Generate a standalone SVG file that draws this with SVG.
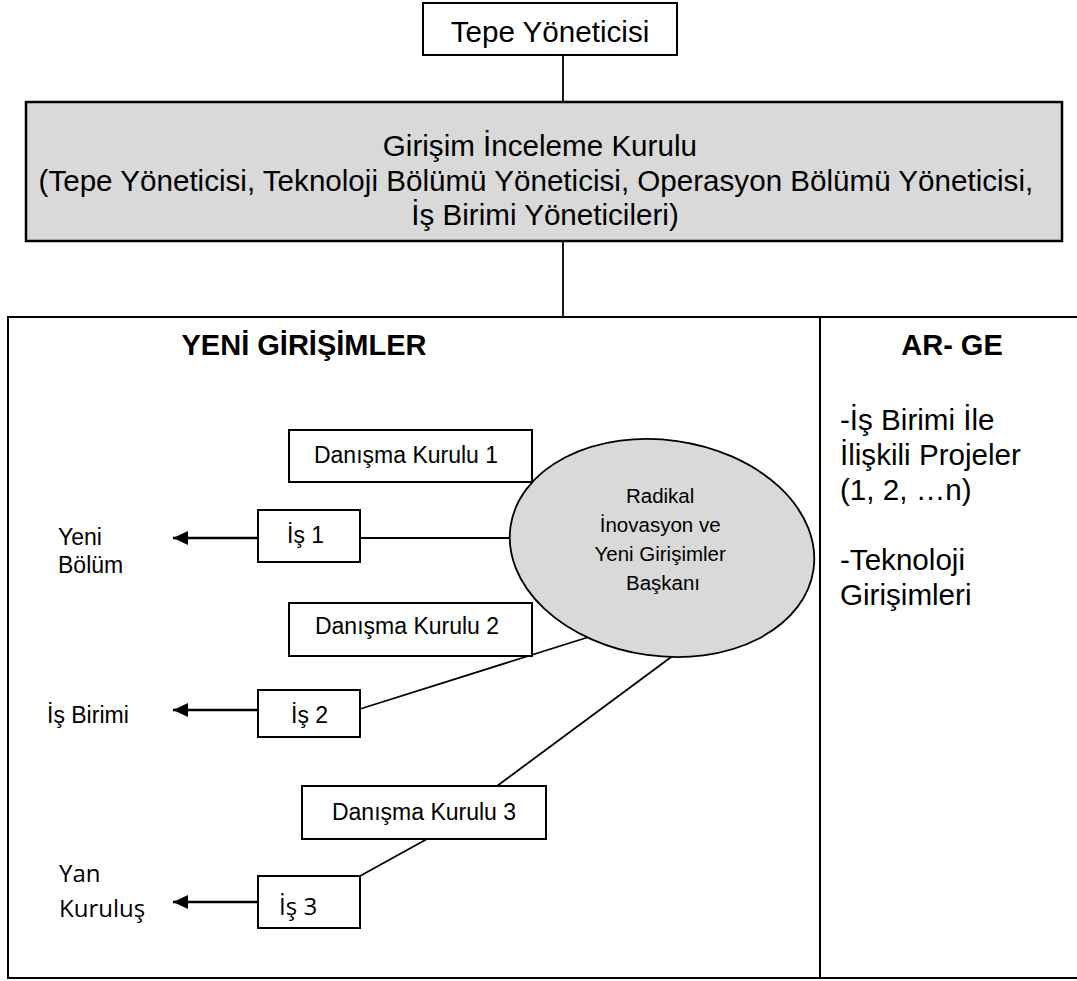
<svg xmlns="http://www.w3.org/2000/svg" width="1077" height="981" viewBox="0 0 1077 981">
  <style>
    .box { fill: #ffffff; stroke: #000000; stroke-width: 2; }
    .gray { fill: #d9d9d9; stroke: #000000; stroke-width: 2.5; }
    .line { fill: none; stroke: #000000; stroke-width: 1.8; }
    .arrow { fill: none; stroke: #000000; stroke-width: 2.6; marker-end: url(#head); }
    text { font-family: "Liberation Sans", Arial, sans-serif; fill: #000000; }
    .big { font-size: 29.6px; }
    .title { font-size: 29px; font-weight: bold; }
    .mid { font-size: 23px; }
    .soft { font-family: "Open Sans", "Liberation Sans", sans-serif; font-size: 24px; }
    .small { font-size: 20.5px; }
  </style>
  <defs>
    <marker id="head" markerWidth="16" markerHeight="14" refX="15" refY="7" orient="auto" markerUnits="userSpaceOnUse">
      <path d="M0,0 L15,7 L0,14 Z" fill="#000000"/>
    </marker>
  </defs>

  <!-- outer frame with the two columns -->
  <g id="frame">
    <path d="M1077,317 L8,317 L8,978 L1077,978" fill="none" stroke="#000000" stroke-width="2"/>
    <line x1="820" y1="317" x2="820" y2="978" stroke="#000000" stroke-width="2"/>
  </g>

  <!-- connectors (drawn beneath the ellipse so their ends tuck under it) -->
  <g id="connectors">
    <line class="line" x1="563" y1="55" x2="563" y2="102"/>
    <line class="line" x1="563" y1="241" x2="563" y2="317"/>
    <line class="line" x1="360" y1="538" x2="520" y2="538"/>
    <line class="line" x1="360" y1="709" x2="592" y2="636"/>
    <line class="line" x1="682" y1="649" x2="497" y2="786"/>
    <line class="line" x1="427" y1="839" x2="360" y2="876"/>
    <line class="arrow" x1="257" y1="538" x2="173" y2="538"/>
    <line class="arrow" x1="257" y1="710" x2="173" y2="710"/>
    <line class="arrow" x1="257" y1="902" x2="173" y2="902"/>
  </g>

  <g id="tepe-yoneticisi">
    <rect class="box" x="423" y="3" width="254" height="52"/>
    <text class="big" x="550" y="42" text-anchor="middle">Tepe Yöneticisi</text>
  </g>

  <g id="girisim-inceleme-kurulu">
    <rect class="gray" x="26" y="102" width="1036" height="139"/>
    <text class="big" text-anchor="middle">
      <tspan x="544" y="156">Girişim İnceleme Kurulu</tspan>
      <tspan x="540" y="191">(Tepe Yöneticisi, Teknoloji Bölümü Yöneticisi, Operasyon Bölümü Yöneticisi,</tspan>
      <tspan x="545" y="225">İş Birimi Yöneticileri)</tspan>
    </text>
  </g>

  <g id="yeni-girisimler-title">
    <text class="title" x="304" y="355" text-anchor="middle">YENİ GİRİŞİMLER</text>
  </g>

  <g id="ar-ge">
    <text class="title" x="952" y="355" text-anchor="middle">AR- GE</text>
    <text class="big">
      <tspan x="840" y="430">-İş Birimi İle</tspan>
      <tspan x="840" y="465">İlişkili Projeler</tspan>
      <tspan x="840" y="500">(1, 2, …n)</tspan>
      <tspan x="840" y="570">-Teknoloji</tspan>
      <tspan x="840" y="605">Girişimleri</tspan>
    </text>
  </g>

  <g id="baskan">
    <ellipse cx="662" cy="548" rx="153" ry="108" transform="rotate(8 662 548)" fill="#d9d9d9" stroke="#000000" stroke-width="1.8"/>
    <text class="small" text-anchor="middle">
      <tspan x="663" y="503">Radikal</tspan>
      <tspan x="663" y="532">İnovasyon ve</tspan>
      <tspan x="663" y="561">Yeni Girişimler</tspan>
      <tspan x="663" y="590">Başkanı</tspan>
    </text>
  </g>

  <g id="danisma-kurulu-1">
    <rect class="box" x="289" y="430" width="243" height="52"/>
    <text class="mid" x="406" y="463" text-anchor="middle">Danışma Kurulu 1</text>
  </g>

  <g id="danisma-kurulu-2">
    <rect class="box" x="289" y="603" width="243" height="53"/>
    <text class="mid" x="407" y="634" text-anchor="middle">Danışma Kurulu 2</text>
  </g>

  <g id="danisma-kurulu-3">
    <rect class="box" x="302" y="786" width="244" height="53"/>
    <text class="mid" x="424" y="820" text-anchor="middle">Danışma Kurulu 3</text>
  </g>

  <g id="is-1">
    <rect class="box" x="258" y="510" width="102" height="52"/>
    <text class="mid" x="287" y="543">İş 1</text>
  </g>

  <g id="is-2">
    <rect class="box" x="258" y="690" width="102" height="47"/>
    <text class="mid" x="291" y="723">İş 2</text>
  </g>

  <g id="is-3">
    <rect class="box" x="258" y="876" width="102" height="52"/>
    <text class="soft" x="279" y="915">İş 3</text>
  </g>

  <g id="yeni-bolum">
    <text class="mid">
      <tspan x="58" y="545">Yeni</tspan>
      <tspan x="58" y="573">Bölüm</tspan>
    </text>
  </g>

  <g id="is-birimi">
    <text class="mid" x="47" y="723">İş Birimi</text>
  </g>

  <g id="yan-kurulus">
    <text class="soft">
      <tspan x="59" y="882">Yan</tspan>
      <tspan x="59" y="917">Kuruluş</tspan>
    </text>
  </g>
</svg>
